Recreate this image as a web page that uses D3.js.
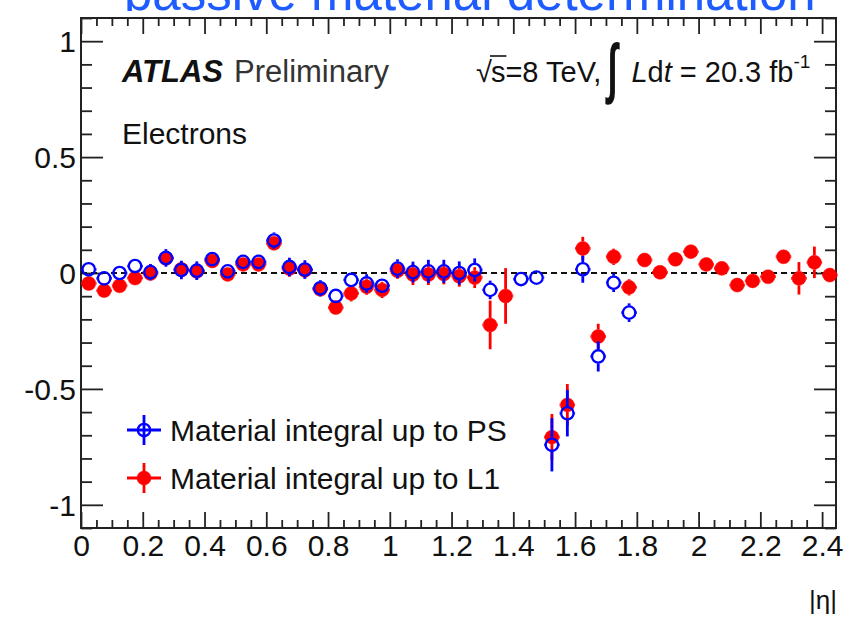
<!DOCTYPE html>
<html>
<head>
<meta charset="utf-8">
<script src="https://cdn.jsdelivr.net/npm/d3@7"></script>
<style>
  body { margin: 0; background: #fff; }
  svg { display: block; }
  text { font-family: "Liberation Sans", Arial, Helvetica, sans-serif; }
</style>
</head>
<body>
<svg id="chart" width="846" height="624"></svg>
<script>
// |eta| bin centres and relative difference for the material integral up to L1
const etaL1 = [0.025, 0.075, 0.125, 0.175, 0.225, 0.275, 0.325, 0.375, 0.425, 0.475,
               0.525, 0.575, 0.625, 0.675, 0.725, 0.775, 0.825, 0.875, 0.925, 0.975,
               1.025, 1.075, 1.125, 1.175, 1.225, 1.275, 1.325, 1.375,
               1.525, 1.575, 1.625, 1.675, 1.725, 1.775, 1.825, 1.875, 1.925, 1.975,
               2.025, 2.075, 2.125, 2.175, 2.225, 2.275, 2.325, 2.375, 2.425];
const valL1 = [-0.045, -0.076, -0.055, -0.022, -0.002, 0.063, 0.016, 0.007, 0.052, -0.006,
               0.037, 0.037, 0.128, 0.019, 0.012, -0.070, -0.149, -0.088, -0.059, -0.073,
               0.010, -0.007, -0.007, -0.004, -0.014, -0.020, -0.224, -0.099,
               -0.708, -0.569, 0.106, -0.274, 0.070, -0.062, 0.056, 0.003, 0.059, 0.092,
               0.037, 0.020, -0.052, -0.034, -0.016, 0.070, -0.023, 0.046, -0.009];
const errL1 = [0.02, 0.02, 0.02, 0.02, 0.03, 0.03, 0.035, 0.035, 0.03, 0.03,
               0.025, 0.025, 0.03, 0.035, 0.035, 0.03, 0.03, 0.035, 0.035, 0.035,
               0.035, 0.045, 0.045, 0.045, 0.045, 0.045, 0.105, 0.12,
               0.10, 0.09, 0.05, 0.055, 0.035, 0.035, 0.02, 0.025, 0.02, 0.02,
               0.02, 0.02, 0.02, 0.02, 0.02, 0.02, 0.07, 0.068, 0.02];

// Same quantity for the material integral up to the presampler (PS)
const etaPS = [0.025, 0.075, 0.125, 0.175, 0.225, 0.275, 0.325, 0.375, 0.425, 0.475,
               0.525, 0.575, 0.625, 0.675, 0.725, 0.775, 0.825, 0.875, 0.925, 0.975,
               1.025, 1.075, 1.125, 1.175, 1.225, 1.275, 1.325, 1.425, 1.475,
               1.525, 1.575, 1.625, 1.675, 1.725, 1.775];
const valPS = [0.016, -0.023, 0.000, 0.030, 0.004, 0.065, 0.013, 0.010, 0.060, 0.007,
               0.048, 0.048, 0.140, 0.026, 0.015, -0.066, -0.099, -0.030, -0.045, -0.055,
               0.019, 0.004, 0.007, 0.007, 0.000, 0.013, -0.073, -0.026, -0.020,
               -0.741, -0.605, 0.016, -0.360, -0.042, -0.171];
const errPS = [0.02, 0.02, 0.02, 0.02, 0.035, 0.038, 0.04, 0.04, 0.03, 0.03,
               0.03, 0.03, 0.035, 0.04, 0.04, 0.035, 0.03, 0.03, 0.04, 0.03,
               0.04, 0.045, 0.05, 0.05, 0.05, 0.05, 0.04, 0.02, 0.02,
               0.115, 0.10, 0.058, 0.065, 0.04, 0.04];

const binHalfWidth = 0.025;
const xTicks = [0, 0.2, 0.4, 0.6, 0.8, 1, 1.2, 1.4, 1.6, 1.8, 2, 2.2, 2.4];
const yTicks = [-1, -0.5, 0, 0.5, 1];
const legendLabels = ["Material integral up to PS", "Material integral up to L1"];

const W = 846, H = 624;
const frame = { left: 81, right: 836, top: 18, bottom: 528 };
const BLUE = "#0000ff", RED = "#ff0000", INK = "#222";
const R = 7;

const svg = d3.select("#chart");

// Slide heading, partly covered by the plot canvas below it
svg.append("text")
  .attr("x", 124).attr("y", 9.5)
  .attr("font-size", 51)
  .attr("fill", "#1f5cff")
  .text("passive material determination");
svg.append("rect").attr("x", 0).attr("y", 11).attr("width", W).attr("height", H - 11).attr("fill", "#fff");

const x = d3.scaleLinear().domain([0, 2.445]).range([frame.left, frame.right]);
const y = d3.scaleLinear().domain([-1.1, 1.1]).range([frame.bottom, frame.top]);

const fmt = d => String(+d.toFixed(1));
const xMinor = d3.range(0, 2.44, 0.05).map(v => +v.toFixed(2)).filter(v => Math.abs(v / 0.2 - Math.round(v / 0.2)) > 1e-6);
const yMinor = d3.range(-1.1, 1.1001, 0.1).map(v => +v.toFixed(2)).filter(v => Math.abs(v / 0.5 - Math.round(v / 0.5)) > 1e-6);

function styleAxis(g) {
  g.select(".domain").remove();
  g.selectAll("line").attr("stroke", INK).attr("stroke-width", 1.8);
  g.selectAll("text").attr("fill", "#111").attr("font-size", 30)
    .attr("font-family", '"Liberation Sans", Arial, Helvetica, sans-serif');
}

// bottom axis
svg.append("g").attr("transform", `translate(0,${frame.bottom})`)
  .call(d3.axisBottom(x).tickValues(xTicks).tickSizeInner(-16).tickSizeOuter(0).tickPadding(7).tickFormat(fmt))
  .call(styleAxis);
svg.append("g").attr("transform", `translate(0,${frame.bottom})`)
  .call(d3.axisBottom(x).tickValues(xMinor).tickSizeInner(-8).tickSizeOuter(0).tickFormat(""))
  .call(styleAxis);
// top axis
svg.append("g").attr("transform", `translate(0,${frame.top})`)
  .call(d3.axisTop(x).tickValues(xTicks).tickSizeInner(-16).tickSizeOuter(0).tickFormat(""))
  .call(styleAxis);
svg.append("g").attr("transform", `translate(0,${frame.top})`)
  .call(d3.axisTop(x).tickValues(xMinor).tickSizeInner(-8).tickSizeOuter(0).tickFormat(""))
  .call(styleAxis);
// left axis
svg.append("g").attr("transform", `translate(${frame.left},0)`)
  .call(d3.axisLeft(y).tickValues(yTicks).tickSizeInner(-22).tickSizeOuter(0).tickPadding(5).tickFormat(fmt))
  .call(styleAxis)
  .call(g => g.selectAll("text").attr("dy", "0.36em"));
svg.append("g").attr("transform", `translate(${frame.left},0)`)
  .call(d3.axisLeft(y).tickValues(yMinor).tickSizeInner(-11).tickSizeOuter(0).tickFormat(""))
  .call(styleAxis);
// right axis
svg.append("g").attr("transform", `translate(${frame.right},0)`)
  .call(d3.axisRight(y).tickValues(yTicks).tickSizeInner(-22).tickSizeOuter(0).tickFormat(""))
  .call(styleAxis);
svg.append("g").attr("transform", `translate(${frame.right},0)`)
  .call(d3.axisRight(y).tickValues(yMinor).tickSizeInner(-11).tickSizeOuter(0).tickFormat(""))
  .call(styleAxis);

// frame
svg.append("rect")
  .attr("x", frame.left).attr("y", frame.top)
  .attr("width", frame.right - frame.left).attr("height", frame.bottom - frame.top)
  .attr("fill", "none").attr("stroke", INK).attr("stroke-width", 2);

// reference line at zero
svg.append("line")
  .attr("x1", frame.left).attr("x2", frame.right)
  .attr("y1", y(0)).attr("y2", y(0))
  .attr("stroke", "#111").attr("stroke-width", 2).attr("stroke-dasharray", "6,4");

// data series with error bars that stop at the marker edge
function drawSeries(etas, vals, errs, color, filled) {
  const g = svg.append("g");
  const pts = etas.map((e, i) => ({ e, v: vals[i], err: errs[i] }));
  pts.forEach(p => {
    const cx = x(p.e), cy = y(p.v);
    const yTop = y(p.v + p.err), yBot = y(p.v - p.err);
    const xL = x(p.e - binHalfWidth), xR = x(p.e + binHalfWidth);
    const segs = [];
    if (cy - yTop > R) segs.push([cx, yTop, cx, cy - R]);
    if (yBot - cy > R) segs.push([cx, cy + R, cx, yBot]);
    if (cx - xL > R) segs.push([xL, cy, cx - R, cy]);
    if (xR - cx > R) segs.push([cx + R, cy, xR, cy]);
    segs.forEach(s => g.append("line")
      .attr("x1", s[0]).attr("y1", s[1]).attr("x2", s[2]).attr("y2", s[3])
      .attr("stroke", color).attr("stroke-width", 2.8));
  });
  g.selectAll("circle").data(pts).join("circle")
    .attr("cx", d => x(d.e)).attr("cy", d => y(d.v)).attr("r", filled ? R : R - 0.8)
    .attr("fill", filled ? color : "none")
    .attr("stroke", color).attr("stroke-width", filled ? 0.5 : 2.3);
}
drawSeries(etaL1, valL1, errL1, RED, true);
drawSeries(etaPS, valPS, errPS, BLUE, false);

// experiment label
const atlas = svg.append("text").attr("x", 122).attr("y", 82).attr("font-size", 31).attr("fill", "#111");
atlas.append("tspan").attr("font-weight", "bold").attr("font-style", "italic").text("ATLAS");
atlas.append("tspan").attr("dx", 11).attr("fill", "#333").text("Preliminary");

svg.append("text").attr("x", 122).attr("y", 144).attr("font-size", 30).attr("fill", "#111").text("Electrons");

// energy and luminosity label
const lumi = svg.append("g").attr("fill", "#111");
const fs = 29, base = 82;
let cur = 476;
const sq = lumi.append("text").attr("x", cur).attr("y", base).attr("font-size", fs).text("\u221A");
cur += sq.node().getComputedTextLength() - 1;
const sLetter = lumi.append("text").attr("x", cur).attr("y", base).attr("font-size", fs).text("s");
const sW = sLetter.node().getComputedTextLength();
lumi.append("line").attr("x1", cur - 1).attr("x2", cur + sW + 1).attr("y1", base - 26).attr("y2", base - 26)
  .attr("stroke", "#111").attr("stroke-width", 1.6);
cur += sW;
const e1 = lumi.append("text").attr("x", cur).attr("y", base).attr("font-size", fs).text("=8 TeV,");
cur += e1.node().getComputedTextLength() + 6;
lumi.append("text").attr("x", cur).attr("y", base + 8).attr("font-size", 44)
  .attr("font-family", '"DejaVu Sans", sans-serif').attr("font-weight", "bold")
  .attr("transform", `translate(${cur},${base + 8}) scale(0.8,1.5) translate(${-cur},${-(base + 8)})`)
  .text("\u222B");
cur += 24;
const lt = lumi.append("text").attr("x", cur).attr("y", base).attr("font-size", fs);
lt.append("tspan").attr("font-style", "italic").text("L");
lt.append("tspan").text("d");
lt.append("tspan").attr("font-style", "italic").text("t");
lt.append("tspan").text(" = 20.3 fb");
lt.append("tspan").attr("font-size", 19).attr("dy", -14).text("-1");

// legend
const legend = [
  { label: legendLabels[0], color: BLUE, filled: false, cy: 430, ty: 441 },
  { label: legendLabels[1], color: RED, filled: true, cy: 478, ty: 489 }
];
legend.forEach(l => {
  const cx = 144;
  svg.append("line").attr("x1", cx - 17).attr("x2", cx + 17).attr("y1", l.cy).attr("y2", l.cy)
    .attr("stroke", l.color).attr("stroke-width", 2.8);
  svg.append("line").attr("x1", cx).attr("x2", cx).attr("y1", l.cy - 15).attr("y2", l.cy + 15)
    .attr("stroke", l.color).attr("stroke-width", 2.8);
  svg.append("circle").attr("cx", cx).attr("cy", l.cy).attr("r", l.filled ? R : R - 0.8)
    .attr("fill", l.filled ? l.color : "none").attr("stroke", l.color).attr("stroke-width", l.filled ? 0.5 : 2.3);
  svg.append("text").attr("x", 170).attr("y", l.ty).attr("font-size", 30).attr("fill", "#111").text(l.label);
});

// axis title
svg.append("text").attr("x", 837).attr("y", 609).attr("text-anchor", "end").attr("font-size", 26)
  .attr("fill", "#111").text("|\u03B7|");
</script>
</body>
</html>
